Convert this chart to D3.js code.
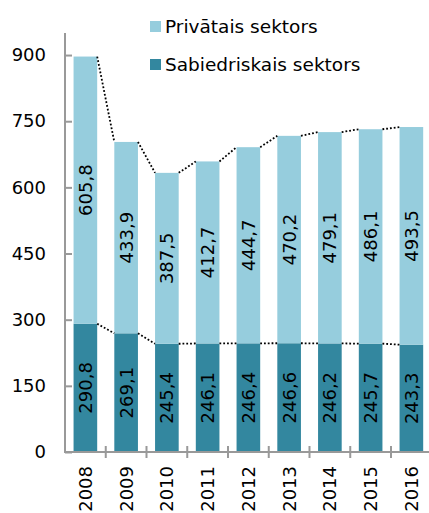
<!DOCTYPE html>
<html><head><meta charset="utf-8">
<script src="https://cdn.jsdelivr.net/npm/d3@7"></script>
<style>body{margin:0;background:#fff}svg{display:block;font-family:"DejaVu Sans",Verdana,sans-serif}</style>
</head><body><svg id="c" width="429" height="513"></svg>
<script>
const years = ["2008","2009","2010","2011","2012","2013","2014","2015","2016"];
const publicSector = [290.8,269.1,245.4,246.1,246.4,246.6,246.2,245.7,243.3];
const privateSector = [605.8,433.9,387.5,412.7,444.7,470.2,479.1,486.1,493.5];
const yTicks = [0,150,300,450,600,750,900];
const seriesNames = ["Privātais sektors","Sabiedriskais sektors"];
const colors = {priv:"#96cddd", pub:"#33879f"};
const FS = 18;

const svg = d3.select("#c");
const x = d3.scaleBand().domain(years).range([65, 65+9*40.75]).paddingInner(0.42).paddingOuter(0.21);
const y = d3.scaleLinear().domain([0,950]).range([452,33]);
const fmt = v => v.toFixed(1).replace(".", ",");

// bars
const g = svg.append("g");
years.forEach((yr,i)=>{
  const p = publicSector[i], q = privateSector[i];
  g.append("rect").attr("x",x(yr)).attr("width",x.bandwidth())
    .attr("y",y(p)).attr("height",y(0)-y(p)).attr("fill",colors.pub);
  g.append("rect").attr("x",x(yr)).attr("width",x.bandwidth())
    .attr("y",y(p+q)).attr("height",y(p)-y(p+q)).attr("fill",colors.priv);
  const cx = x(yr)+x.bandwidth()/2;
  g.append("text").attr("transform",`translate(${cx},${(y(0)+y(p))/2}) rotate(-90)`)
    .attr("text-anchor","middle").attr("dy","0.36em").attr("font-size",FS).attr("fill","#000").text(fmt(p));
  g.append("text").attr("transform",`translate(${cx},${(y(p)+y(p+q))/2}) rotate(-90)`)
    .attr("text-anchor","middle").attr("dy","0.36em").attr("font-size",FS).attr("fill","#000").text(fmt(q));
});

// dotted connectors
for(let i=0;i<years.length-1;i++){
  const x1 = x(years[i])+x.bandwidth(), x2 = x(years[i+1]);
  const t1 = publicSector[i]+privateSector[i], t2 = publicSector[i+1]+privateSector[i+1];
  [[t1,t2],[publicSector[i],publicSector[i+1]]].forEach(([a,b])=>{
    svg.append("line").attr("x1",x1).attr("x2",x2).attr("y1",y(a)).attr("y2",y(b))
      .attr("stroke","#000").attr("stroke-width",1.8).attr("stroke-dasharray","1.8,2");
  });
}

// y axis
const ya = svg.append("g").attr("transform","translate(65,0)")
  .call(d3.axisLeft(y).tickValues(yTicks).tickSize(-7).tickPadding(19).tickFormat(d=>d));
ya.select(".domain").attr("stroke","#999").attr("stroke-width",2).attr("d",`M0,${y(950)}V${y(0)}`);
ya.selectAll(".tick line").attr("stroke","#999").attr("stroke-width",2);
ya.selectAll(".tick text").attr("font-size",FS).attr("fill","#000").attr("font-family","DejaVu Sans");

// x axis
const boundaries = years.map(d=>x(d)-x.step()*x.paddingInner()/2).concat([x(years[8])+x.bandwidth()+x.step()*x.paddingInner()/2]);
svg.append("line").attr("x1",64).attr("x2",429).attr("y1",y(0)).attr("y2",y(0)).attr("stroke","#999").attr("stroke-width",2);
boundaries.slice(1).forEach(b=>{
  svg.append("line").attr("x1",b).attr("x2",b).attr("y1",y(0)-6).attr("y2",y(0)+6).attr("stroke","#999").attr("stroke-width",2);
});
years.forEach(yr=>{
  svg.append("text").attr("transform",`translate(${x(yr)+x.bandwidth()/2},${466}) rotate(-90)`)
    .attr("text-anchor","end").attr("dy","0.36em").attr("font-size",FS).attr("fill","#000").text(yr);
});

// legend
const leg = [[seriesNames[0],colors.priv,21],[seriesNames[1],colors.pub,59]];
leg.forEach(([n,c,ty])=>{
  svg.append("rect").attr("x",150).attr("y",ty).attr("width",11).attr("height",11).attr("fill",c);
  svg.append("text").attr("x",165).attr("y",ty+12).attr("font-size",18.5).attr("fill","#000").text(n);
});
</script></body></html>
